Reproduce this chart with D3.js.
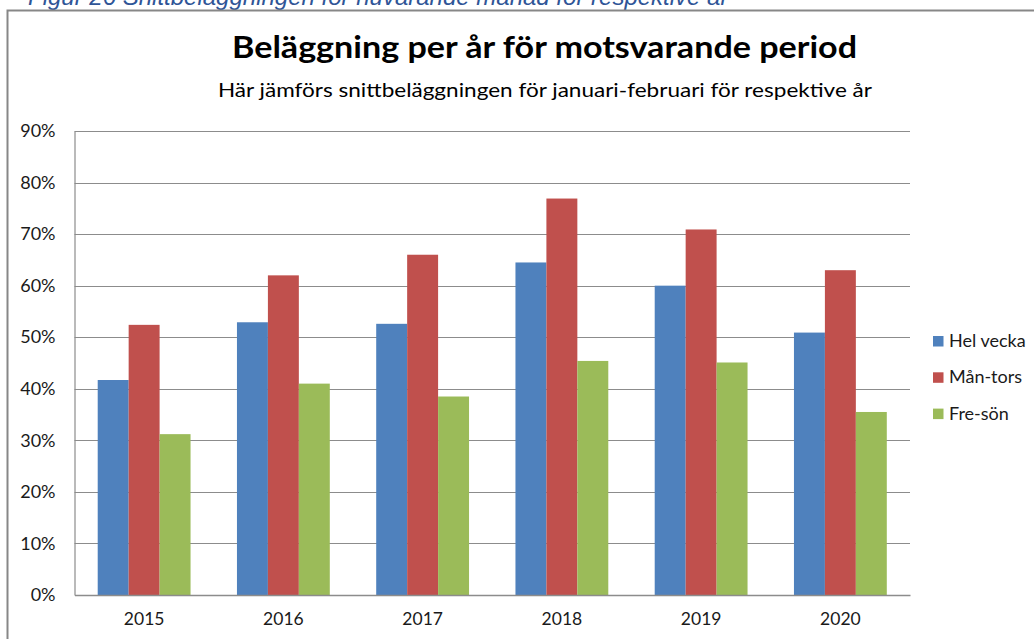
<!DOCTYPE html>
<html>
<head>
<meta charset="utf-8">
<script src="https://cdn.jsdelivr.net/npm/d3@7"></script>
<style>
    html, body { margin: 0; padding: 0; background: #fff; }
    svg { display: block; }
</style>
</head>
<body>
<svg id="chart"></svg>
<script>
'use strict';

var years = ["2015", "2016", "2017", "2018", "2019", "2020"];
var seriesNames = ["Hel vecka", "Mån-tors", "Fre-sön"];
var helVecka = [0.417, 0.529, 0.526, 0.645, 0.600, 0.509];
var manTors = [0.524, 0.620, 0.660, 0.769, 0.709, 0.630];
var freSon = [0.312, 0.410, 0.385, 0.454, 0.451, 0.355];
var yTicks = [0, 0.1, 0.2, 0.3, 0.4, 0.5, 0.6, 0.7, 0.8, 0.9];
var colors = ["#4f81bd", "#c0504d", "#9bbb59"];

(function () {
    var width = 1034,
        height = 639,
        plotLeft = 74.5,
        plotRight = 910,
        plotTop = 131,
        plotBottom = 595;

    var svg = d3.select("#chart")
        .attr("width", width)
        .attr("height", height);

    var font = "Lato, 'Open Sans', sans-serif";

    //caption above the chart, cut off by the top edge like in the source
    svg.append("text")
        .attr("x", 28)
        .attr("y", 5)
        .attr("font-family", "Arial, 'Liberation Sans', sans-serif")
        .attr("font-style", "italic")
        .attr("font-size", 24)
        .attr("fill", "#2f5597")
        .text("Figur 26 Snittbeläggningen för nuvarande månad för respektive år");

    //chart frame
    svg.append("path")
        .attr("d", "M7.5," + (height + 5) + "V10.5H" + (width + 5))
        .attr("fill", "none")
        .attr("stroke", "#878787")
        .attr("stroke-width", 2);

    //titles
    svg.append("text")
        .attr("x", 232)
        .attr("y", 58)
        .attr("font-family", font)
        .attr("font-weight", "bold")
        .attr("font-size", 30)
        .attr("textLength", 625)
        .attr("lengthAdjust", "spacingAndGlyphs")
        .attr("fill", "#000")
        .text("Beläggning per år för motsvarande period");

    svg.append("text")
        .attr("x", 218)
        .attr("y", 97)
        .attr("font-family", font)
        .attr("font-size", 20)
        .attr("textLength", 654)
        .attr("lengthAdjust", "spacingAndGlyphs")
        .attr("fill", "#000")
        .text("Här jämförs snittbeläggningen för januari-februari för respektive år");

    var y = d3.scaleLinear()
        .domain([0, 0.9])
        .range([plotBottom, plotTop]);

    var x0 = d3.scaleBand()
        .domain(years)
        .range([plotLeft, plotRight])
        .paddingInner(1 / 3)
        .paddingOuter(1 / 6);

    var x1 = d3.scaleBand()
        .domain(seriesNames)
        .range([0, x0.bandwidth()]);

    //gridlines
    svg.append("g")
        .selectAll("line")
        .data(yTicks.slice(1))
        .join("line")
        .attr("x1", plotLeft)
        .attr("x2", plotRight)
        .attr("y1", function (d) { return Math.round(y(d)) + 0.5; })
        .attr("y2", function (d) { return Math.round(y(d)) + 0.5; })
        .attr("stroke", "#8c8c8c")
        .attr("stroke-width", 1.2);

    //y axis
    var yAxis = svg.append("g")
        .attr("transform", "translate(" + plotLeft + ",0)")
        .call(d3.axisLeft(y).tickValues(yTicks).tickFormat(d3.format(".0%")).tickSize(0).tickPadding(19));
    yAxis.select(".domain").attr("stroke", "#8c8c8c").attr("stroke-width", 1.2);
    yAxis.selectAll("text")
        .attr("font-family", font)
        .attr("font-size", 18)
        .attr("fill", "#1a1a1a");

    //bars
    var seriesValues = [helVecka, manTors, freSon];
    var groups = svg.append("g")
        .selectAll("g")
        .data(years)
        .join("g")
        .attr("transform", function (d) { return "translate(" + x0(d) + ",0)"; });

    groups.selectAll("rect")
        .data(function (d, i) {
            return seriesNames.map(function (s, j) {
                return {series: s, value: seriesValues[j][i], color: colors[j]};
            });
        })
        .join("rect")
        .attr("x", function (d) { return x1(d.series); })
        .attr("y", function (d) { return y(d.value); })
        .attr("width", x1.bandwidth())
        .attr("height", function (d) { return y(0) - y(d.value); })
        .attr("fill", function (d) { return d.color; });

    //x axis
    var xAxis = svg.append("g")
        .attr("transform", "translate(0," + plotBottom + ")")
        .call(d3.axisBottom(x0).tickSize(0).tickPadding(18).tickSizeOuter(0));
    xAxis.select(".domain").attr("stroke", "#8c8c8c").attr("stroke-width", 1.5);
    xAxis.selectAll("text")
        .attr("font-family", font)
        .attr("font-size", 17.5)
        .attr("fill", "#1a1a1a");

    //legend
    var legend = svg.append("g")
        .attr("transform", "translate(933,336)")
        .selectAll("g")
        .data(seriesNames)
        .join("g")
        .attr("transform", function (d, i) { return "translate(0," + (i * 36.3) + ")"; });

    legend.append("rect")
        .attr("width", 10.5)
        .attr("height", 10.5)
        .attr("fill", function (d, i) { return colors[i]; });

    legend.append("text")
        .attr("x", 16)
        .attr("y", 11)
        .attr("font-family", font)
        .attr("font-size", 18)
        .attr("fill", "#1a1a1a")
        .text(function (d) { return d; });
})();
</script>
</body>
</html>
